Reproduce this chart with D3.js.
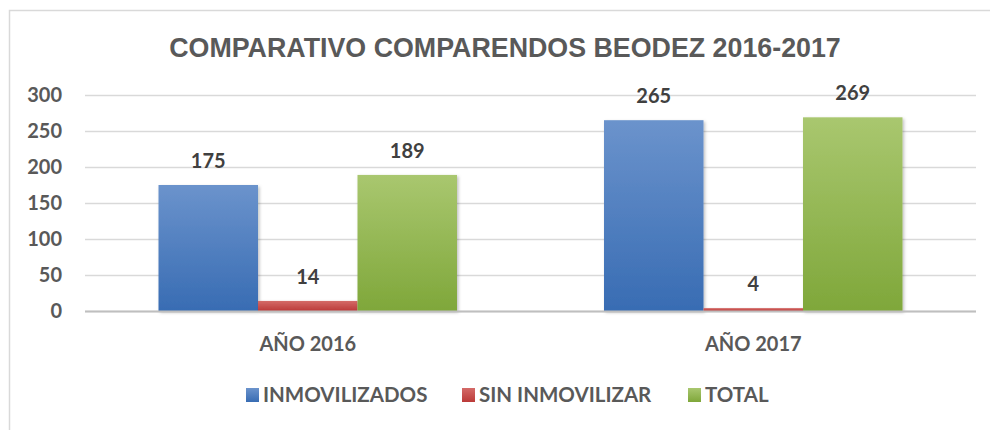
<!DOCTYPE html>
<html><head><meta charset="utf-8">
<script src="https://cdn.jsdelivr.net/npm/d3@7"></script>
<style>body{margin:0;background:#fff}svg{display:block}</style>
</head><body>
<svg id="c" width="990" height="430"></svg>
<script>
const title = "COMPARATIVO COMPARENDOS BEODEZ 2016-2017";
const categories = ["AÑO 2016", "AÑO 2017"];
const seriesNames = ["INMOVILIZADOS", "SIN INMOVILIZAR", "TOTAL"];
const inmovilizados = [175, 265];
const sinInmovilizar = [14, 4];
const total = [189, 269];
const yTicks = [0, 50, 100, 150, 200, 250, 300];

const seriesValues = [inmovilizados, sinInmovilizar, total];
const colors = [["#6b93cc", "#386cb3"], ["#d46a68", "#bb3a38"], ["#a9c76f", "#7fa73a"]];

const svg = d3.select("#c");
const plot = {l: 85, r: 976, t: 95, b: 311};

// frame
svg.append("rect").attr("x", 9.5).attr("y", 10.5).attr("width", 1100).attr("height", 1000)
  .attr("fill", "#fff").attr("stroke", "#d9d9d9").attr("stroke-width", 1.5);

const defs = svg.append("defs");
colors.forEach((c, i) => {
  const g = defs.append("linearGradient").attr("id", "g" + i).attr("x1", 0).attr("y1", 0).attr("x2", 0).attr("y2", 1);
  g.append("stop").attr("offset", "0%").attr("stop-color", c[0]);
  g.append("stop").attr("offset", "100%").attr("stop-color", c[1]);
});
const f = defs.append("filter").attr("id", "sh").attr("x", "-10%").attr("y", "-10%").attr("width", "130%").attr("height", "130%");
f.append("feDropShadow").attr("dx", 1.5).attr("dy", 1.5).attr("stdDeviation", 1.5).attr("flood-color", "#000").attr("flood-opacity", 0.25);

svg.append("text").attr("x", 505).attr("y", 57).attr("text-anchor", "middle")
  .attr("font-family", "Liberation Sans, Arial, sans-serif").attr("font-weight", "bold")
  .attr("font-size", 26.8).attr("fill", "#595959").text(title);

const y = d3.scaleLinear().domain([0, 300]).range([plot.b, plot.t]);
const x0 = d3.scaleBand().domain(categories).range([plot.l, plot.r]).paddingInner(0.33).paddingOuter(0.165);
const x1 = d3.scaleBand().domain(seriesNames).range([0, x0.bandwidth()]);

// gridlines + y labels
const yAxis = d3.axisLeft(y).tickValues(yTicks).tickSize(-(plot.r - plot.l)).tickPadding(23).tickFormat(d3.format("d"));
const ga = svg.append("g").attr("transform", `translate(${plot.l},0)`).call(yAxis);
ga.select(".domain").remove();
ga.selectAll(".tick line").attr("stroke", "#d9d9d9").attr("stroke-width", 1.5);
ga.selectAll(".tick text").attr("font-family", "Lato, sans-serif").attr("font-weight", "bold")
  .attr("font-size", 20).attr("fill", "#595959");

// bars
const groups = svg.append("g").selectAll("g").data(categories).join("g")
  .attr("transform", d => `translate(${x0(d)},0)`);
groups.each(function(cat, ci) {
  const g = d3.select(this);
  seriesNames.forEach((s, si) => {
    const v = seriesValues[si][ci];
    g.append("rect").attr("x", x1(s)).attr("y", y(v)).attr("width", x1.bandwidth())
      .attr("height", y(0) - y(v)).attr("fill", `url(#g${si})`).attr("filter", "url(#sh)");
  });
});
groups.each(function(cat, ci) {
  const g = d3.select(this);
  seriesNames.forEach((s, si) => {
    const v = seriesValues[si][ci];
    g.append("text").attr("x", x1(s) + x1.bandwidth() / 2).attr("y", y(v) - 24).attr("dy", "0.35em")
      .attr("text-anchor", "middle").attr("font-family", "Lato, sans-serif").attr("font-weight", "bold")
      .attr("font-size", 20).attr("fill", "#404040").text(v);
  });
});

// base axis
svg.append("line").attr("x1", plot.l).attr("x2", plot.r).attr("y1", plot.b + 0.5).attr("y2", plot.b + 0.5)
  .attr("stroke", "#bfbfbf").attr("stroke-width", 2);

// category labels
svg.append("g").selectAll("text").data(categories).join("text")
  .attr("x", d => x0(d) + x0.bandwidth() / 2).attr("y", 343.5).attr("dy", "0.35em")
  .attr("text-anchor", "middle").attr("font-family", "Lato, sans-serif").attr("font-weight", "bold")
  .attr("font-size", 20).attr("fill", "#595959").text(d => d);

// legend
const legX = [246, 462, 688];
const leg = svg.append("g").selectAll("g").data(seriesNames).join("g")
  .attr("transform", (d, i) => `translate(${legX[i]},395)`);
leg.append("rect").attr("x", 0).attr("y", -7).attr("width", 13).attr("height", 14)
  .attr("fill", (d, i) => `url(#g${i})`);
leg.append("text").attr("x", 17).attr("y", 0).attr("dy", "0.35em")
  .attr("font-family", "Lato, sans-serif").attr("font-weight", "bold")
  .attr("font-size", 20.5).attr("fill", "#595959").text(d => d);
</script>
</body></html>
